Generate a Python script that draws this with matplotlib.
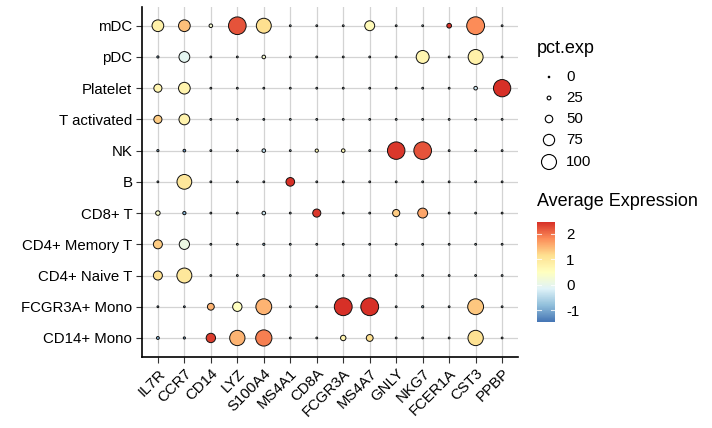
import numpy as np
import matplotlib
matplotlib.use("Agg")
import matplotlib.pyplot as plt
from matplotlib.colors import LinearSegmentedColormap, Normalize
from matplotlib.colorbar import ColorbarBase

plt.rcParams['font.family'] = ['Liberation Sans', 'DejaVu Sans']
plt.rcParams['axes.unicode_minus'] = False

genes = ["IL7R", "CCR7", "CD14", "LYZ", "S100A4", "MS4A1", "CD8A", "FCGR3A",
         "MS4A7", "GNLY", "NKG7", "FCER1A", "CST3", "PPBP"]
# clusters listed top to bottom
clusters = ["mDC", "pDC", "Platelet", "T activated", "NK", "B", "CD8+ T",
            "CD4+ Memory T", "CD4+ Naive T", "FCGR3A+ Mono", "CD14+ Mono"]

pct_exp = [
    [65, 65, 20, 98, 83, 1, 1, 2, 55, 1, 2, 26, 99, 1],      # mDC
    [12, 60, 2, 3, 20, 2, 2, 2, 2, 2, 72, 2, 83, 2],         # pDC
    [45, 65, 2, 2, 10, 2, 5, 2, 2, 2, 4, 2, 20, 96],         # Platelet
    [45, 60, 2, 2, 8, 2, 4, 2, 2, 2, 2, 2, 2, 2],            # T activated
    [12, 15, 2, 2, 20, 2, 18, 20, 2, 97, 98, 2, 2, 2],       # NK
    [3, 82, 2, 2, 3, 48, 2, 2, 2, 2, 2, 2, 2, 2],            # B
    [25, 18, 2, 2, 20, 2, 45, 2, 2, 40, 55, 2, 2, 2],        # CD8+ T
    [50, 57, 2, 2, 12, 2, 2, 2, 2, 2, 2, 2, 2, 2],           # CD4+ Memory T
    [50, 83, 2, 2, 3, 2, 2, 2, 2, 2, 2, 2, 2, 2],            # CD4+ Naive T
    [10, 10, 38, 52, 88, 2, 2, 99, 99, 2, 12, 2, 88, 2],     # FCGR3A+ Mono
    [16, 12, 52, 85, 90, 2, 2, 30, 38, 2, 2, 2, 85, 2],      # CD14+ Mono
]

avg_exp = [
    [0.8, 1.4, 0.3, 2.2, 1.15, -0.5, -0.5, -0.4, 0.6, -0.5, -0.4, 2.45, 1.8, -0.5],
    [-1.0, -0.05, -0.5, -0.5, 0.3, -0.5, -0.5, -0.5, -0.5, -0.5, 0.7, -0.5, 0.8, -0.5],
    [0.7, 0.75, -0.5, -0.5, -0.8, -0.5, -0.6, -0.5, -0.5, -0.5, -0.5, -0.5, -0.3, 2.45],
    [1.3, 0.75, -0.5, -0.5, -0.9, -0.5, -0.6, -0.5, -0.5, -0.5, -0.5, -0.5, -0.5, -0.5],
    [-0.9, -1.1, -0.5, -0.5, -0.4, -0.5, 0.6, 0.6, -0.5, 2.4, 2.2, -0.5, -0.5, -0.5],
    [-0.7, 1.0, -0.5, -0.5, -0.6, 2.45, -0.5, -0.5, -0.5, -0.5, -0.5, -0.5, -0.5, -0.5],
    [0.4, -0.9, -0.5, -0.5, -0.3, -0.5, 2.4, -0.5, -0.5, 1.3, 1.6, -0.5, -0.5, -0.5],
    [1.3, 0.1, -0.5, -0.5, -0.8, -0.5, -0.5, -0.5, -0.5, -0.5, -0.5, -0.5, -0.5, -0.5],
    [1.15, 1.0, -0.5, -0.5, -0.6, -0.5, -0.5, -0.5, -0.5, -0.5, -0.5, -0.5, -0.5, -0.5],
    [-1.0, -1.0, 1.5, 0.5, 1.5, -0.5, -0.5, 2.45, 2.45, -0.5, -0.8, -0.5, 1.35, -0.5],
    [-0.9, -1.0, 2.35, 1.5, 1.9, -0.5, -0.5, 0.7, 1.15, -0.5, -0.5, -0.5, 1.1, -0.5],
]

size_breaks = [0, 25, 50, 75, 100]
color_ticks = [-1, 0, 1, 2]
color_limits = (-1.45, 2.45)

DPI = 100
PT = 72.0 / DPI

def marker_area(p, dmax_px=18.0, dmin_px=1.8):
    d = max(p / 100.0 * dmax_px, dmin_px)
    return (d * PT) ** 2

cmap = LinearSegmentedColormap.from_list(
    "rdylbu_r", ["#4575B4", "#91BFDB", "#E0F3F8", "#FFFFBF", "#FEE090", "#FC8D59", "#D73027"])
norm = Normalize(*color_limits)

fig = plt.figure(figsize=(7.12, 4.28), dpi=DPI)
W, H = 712.0, 428.0
ax = fig.add_axes([142 / W, 1 - 356.7 / H, (518 - 142) / W, (356.7 - 7) / H])

n_rows = len(clusters)
xs, ys, ss, cs = [], [], [], []
for i, cl in enumerate(clusters):
    for j, g in enumerate(genes):
        xs.append(j + 1)
        ys.append(n_rows - i)
        ss.append(marker_area(pct_exp[i][j]))
        cs.append(avg_exp[i][j])

ax.set_axisbelow(True)
ax.grid(True, color="#d3d3d3", linewidth=0.9)
ax.scatter(xs, ys, s=ss, c=cs, cmap=cmap, norm=norm, edgecolors="#111111",
           linewidths=0.7, zorder=3)

ax.set_xlim(0.4, len(genes) + 0.6)
ax.set_ylim(0.4, n_rows + 0.6)
ax.set_xticks(range(1, len(genes) + 1))
ax.set_xticklabels(genes, rotation=45, ha="right", rotation_mode="anchor", fontsize=10.8)
ax.set_yticks(range(1, n_rows + 1))
ax.set_yticklabels(clusters[::-1], fontsize=10.8)
for side in ["top", "right"]:
    ax.spines[side].set_visible(False)
for side in ["left", "bottom"]:
    ax.spines[side].set_linewidth(1.2)
ax.tick_params(axis="both", length=4, width=0.8, color="#333333", labelcolor="black", pad=3)

# size legend (overlay axes in pixel coordinates)
lax = fig.add_axes([0, 0, 1, 1])
lax.set_xlim(0, W)
lax.set_ylim(H, 0)
lax.axis("off")
lax.text(537, 48, "pct.exp", fontsize=13, va="center", ha="left")
leg_y = [77, 98, 119, 140, 162]
for b, yy in zip(size_breaks, leg_y):
    lax.scatter([549], [yy], s=marker_area(b, 15.0, 1.5), facecolors="none",
                edgecolors="black", linewidths=0.8)
    lax.text(566, yy, str(b), fontsize=10.8, va="center", ha="left")
lax.text(537, 201, "Average Expression", fontsize=13, va="center", ha="left")

# colorbar
cax = fig.add_axes([537 / W, 1 - 322 / H, 18 / W, 100 / H])
cb = ColorbarBase(cax, cmap=cmap, norm=norm, orientation="vertical")
cb.outline.set_visible(False)
cb.set_ticks(color_ticks)
cb.ax.tick_params(length=0, labelsize=10.8, pad=8)
for t in color_ticks:
    cax.plot([0, 0.2], [t, t], color="white", lw=0.8, alpha=0.8)
    cax.plot([0.8, 1.0], [t, t], color="white", lw=0.8, alpha=0.8)
cax.set_xlim(0, 1)

fig.savefig("out.png", dpi=DPI)
